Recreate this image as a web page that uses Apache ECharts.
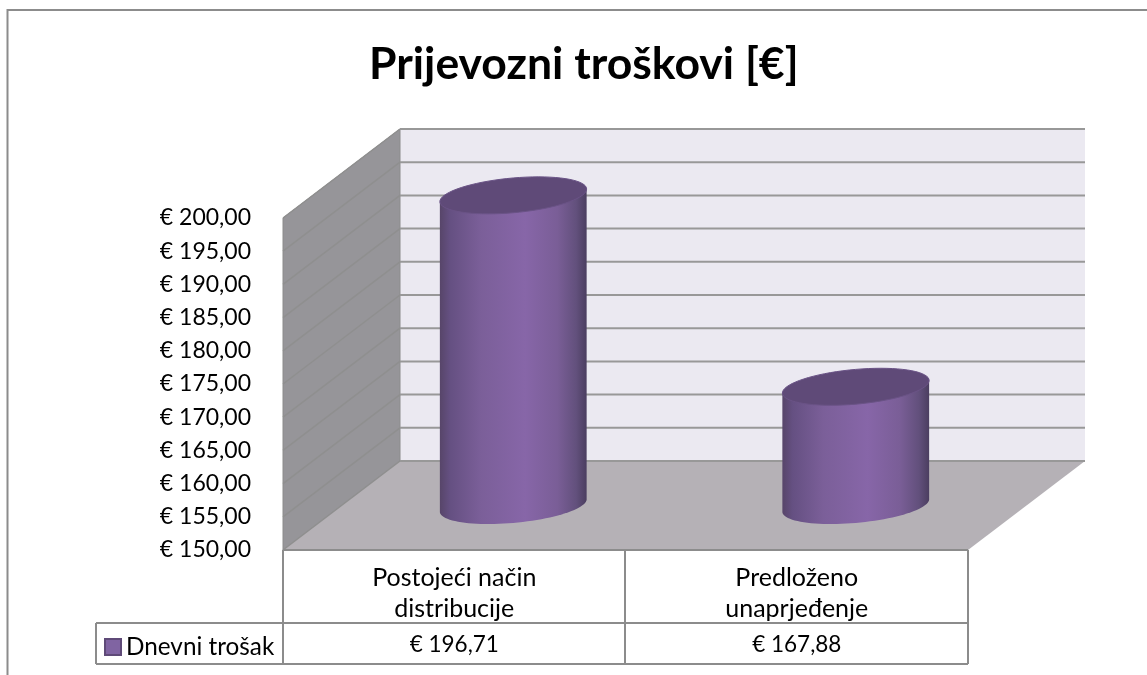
<!DOCTYPE html>
<html><head><meta charset="utf-8">
<style>html,body{margin:0;padding:0;background:#fff}#c{width:1147px;height:675px}</style>
<script src="https://cdn.jsdelivr.net/npm/echarts@6/dist/echarts.min.js"></script>
</head><body><div id="c"></div>
<script>
const categories = ['Postojeći način\ndistribucije', 'Predloženo\nunaprjeđenje'];
const dnevniTrosak = [196.71, 167.88];
const seriesName = 'Dnevni trošak';
const axisMin = 150, axisMax = 200, axisStep = 5;
const tickValues = [150,155,160,165,170,175,180,185,190,195,200];
const titleText = 'Prijevozni troškovi [€]';

const font = 'Lato';
const DX = 117, DY = -89;
const money = v => '€ ' + v.toFixed(2).replace('.', ',');
const chart = echarts.init(document.getElementById('c'), null, {renderer:'canvas'});
const lineCol = '#8f8f8f';

function seg(x1,y1,x2,y2,color,w){
  return {type:'line',silent:true,shape:{x1,y1,x2,y2},style:{stroke:color,lineWidth:w}};
}
function cylinder(params, api){
  const cat = api.value(0), val = api.value(1);
  const top = api.coord([cat,val]), base = api.coord([cat,axisMin]);
  const cx = top[0]+DX/2+0.5, cyT = top[1]+DY/2, cyB = base[1]+DY/2;
  const a = 69, sx = 25, ry = 18.5;
  const t0 = Math.atan2(sx,a);
  const pt = (t,cy)=>[cx+a*Math.cos(t)+sx*Math.sin(t), cy-ry*Math.sin(t)];
  const topPts=[], sidePts=[];
  for(let i=0;i<72;i++) topPts.push(pt(i/72*Math.PI*2,cyT));
  for(let i=0;i<=48;i++){ sidePts.push(pt(t0+Math.PI+i/48*Math.PI,cyB)); }
  sidePts.push(pt(t0,cyT));
  sidePts.push(pt(t0+Math.PI,cyT));
  return {type:'group',children:[
    {type:'polygon',silent:true,shape:{points:sidePts},style:{
      fill:new echarts.graphic.LinearGradient(0,0,1,0,[
        {offset:0,color:'#574569'},{offset:0.07,color:'#655082'},{offset:0.28,color:'#7b5f99'},
        {offset:0.58,color:'#8766a8'},{offset:0.8,color:'#7a5e97'},{offset:0.93,color:'#62507c'},{offset:1,color:'#4b3e60'}])}},
    {type:'polygon',silent:true,shape:{points:topPts},style:{fill:'#5f4a78',stroke:'#6a5386',lineWidth:1}}
  ]};
}
function walls(params, api){
  const bl = api.coord([0,axisMin]), tl = api.coord([0,axisMax]);
  const x0 = 283, x1 = 968, yB = bl[1], yT = tl[1];
  const P = (x,y)=>[x+DX,y+DY];
  return {type:'group',children:[
    {type:'polygon',silent:true,shape:{points:[P(x0,yB),P(x1,yB),P(x1,yT),P(x0,yT)]},style:{fill:'#ebe9f1'}},
    {type:'polygon',silent:true,shape:{points:[[x0,yB],P(x0,yB),P(x0,yT),[x0,yT]]},style:{fill:'#969599',stroke:'#8c8c8c',lineWidth:1}},
    {type:'polygon',silent:true,shape:{points:[[x0,yB],[x1,yB],P(x1,yB),P(x0,yB)]},style:{fill:'#b5b1b6'}}
  ]};
}
function gridLine(params, api){
  const y = api.coord([0,api.value(0)])[1];
  const x0 = 283, x1 = 968;
  return {type:'group',children:[
    seg(x0,y,x0+DX,y+DY,lineCol,1.5),
    seg(x0+DX,y+DY,x1+DX,y+DY,'#989898',2)
  ]};
}
function tableCell(params, api){
  const x = api.coord([api.value(0),axisMin])[0];
  return {type:'text',silent:true,style:{x,y:645,text:money(api.value(1)),fill:'#000',font:'22.5px '+font,align:'center',verticalAlign:'middle'}};
}
const tableCol = '#8c8c8c';
chart.setOption({
  animation:false,
  backgroundColor:'#fff',
  title:{text:titleText,left:369,top:42,
    textStyle:{fontFamily:font,fontWeight:'bold',fontSize:44.5,color:'#000'},padding:0},
  legend:{data:[{name:seriesName,icon:'rect'}],left:104,top:635,itemWidth:16,itemHeight:16,itemGap:0,
    selectedMode:false,textStyle:{fontFamily:font,fontSize:24.3,color:'#000',padding:[0,0,0,0]},padding:0},
  grid:{left:283,top:218,width:685,height:332,containLabel:false},
  xAxis:{type:'category',data:categories,
    axisLine:{show:false},axisTick:{show:false},
    axisLabel:{interval:0,margin:12,lineHeight:31,fontFamily:font,fontSize:25,color:'#000'}},
  yAxis:{type:'value',min:axisMin,max:axisMax,interval:axisStep,
    axisLine:{show:false},axisTick:{show:false},splitLine:{show:false},
    axisLabel:{margin:32,padding:[6,0,0,0],fontFamily:font,fontSize:23,color:'#000',formatter:v=>money(v)}},
  series:[
    {type:'custom',name:'walls',coordinateSystem:'cartesian2d',z:1,silent:true,data:[[0]],encode:{x:0},renderItem:walls,tooltip:{show:false}},
    {type:'custom',name:'grid',coordinateSystem:'cartesian2d',z:2,silent:true,data:tickValues.map(v=>[v]),encode:{y:0},renderItem:gridLine},
    {type:'custom',name:seriesName,coordinateSystem:'cartesian2d',z:3,silent:true,
      itemStyle:{color:'#8064a2',borderColor:'#5f4a78',borderWidth:1},
      data:dnevniTrosak.map((v,i)=>[i,v]),encode:{x:0,y:1},renderItem:cylinder},
    {type:'custom',name:'table',coordinateSystem:'cartesian2d',z:4,silent:true,
      data:dnevniTrosak.map((v,i)=>[i,v]),encode:{x:0,y:1},renderItem:tableCell}
  ],
  graphic:{elements:[
    {type:'polyline',silent:true,z:0,shape:{points:[[7.5,675],[7.5,10],[1147,10]]},style:{stroke:'#8c8c8c',lineWidth:2,fill:null}},
    {type:'line',silent:true,z:10,shape:{x1:283,y1:550,x2:968,y2:550},style:{stroke:tableCol,lineWidth:2}},
    {type:'line',silent:true,z:10,shape:{x1:283,y1:550,x2:283,y2:664},style:{stroke:tableCol,lineWidth:2}},
    {type:'line',silent:true,z:10,shape:{x1:625,y1:550,x2:625,y2:664},style:{stroke:tableCol,lineWidth:2}},
    {type:'line',silent:true,z:10,shape:{x1:968,y1:550,x2:968,y2:664},style:{stroke:tableCol,lineWidth:2}},
    {type:'line',silent:true,z:10,shape:{x1:96,y1:623,x2:968,y2:623},style:{stroke:tableCol,lineWidth:2}},
    {type:'line',silent:true,z:10,shape:{x1:96,y1:664,x2:968,y2:664},style:{stroke:tableCol,lineWidth:2}},
    {type:'line',silent:true,z:10,shape:{x1:96,y1:623,x2:96,y2:664},style:{stroke:tableCol,lineWidth:2}}
  ]}
});
</script></body></html>
